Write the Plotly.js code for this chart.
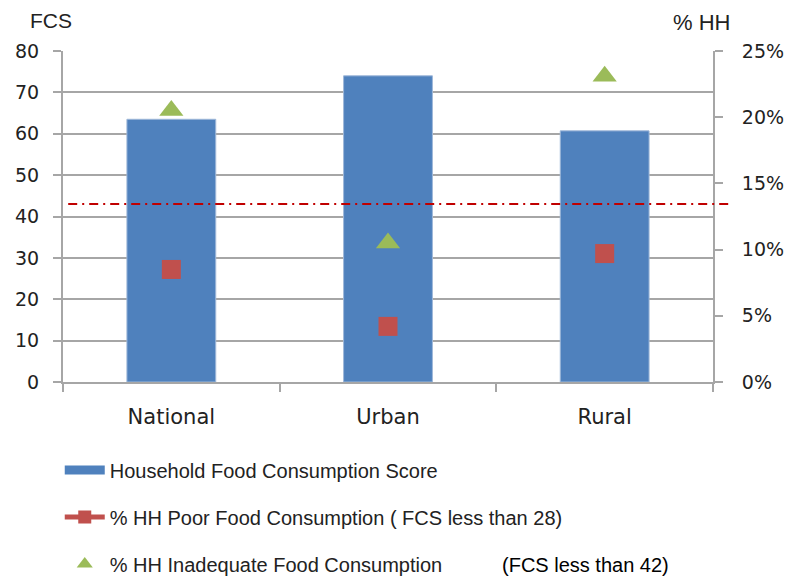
<!DOCTYPE html>
<html>
<head>
<meta charset="utf-8">
<script src="https://cdn.plot.ly/plotly-3.0.1.min.js"></script>
<style>
html,body{margin:0;padding:0;background:#fff;}
#chart{width:790px;height:579px;}
</style>
</head>
<body>
<div id="chart"></div>
<script>
// ---- data ----
const categories = ['National', 'Urban', 'Rural'];
const fcsScore = [63.5, 74, 60.7];                 // Household Food Consumption Score (left axis)
const pctPoor = [0.085, 0.042, 0.097];             // % HH Poor Food Consumption (right axis)
const pctInadequate = [0.205, 0.105, 0.231];       // % HH Inadequate Food Consumption (right axis)
const thresholdFCS = [43];                          // dash-dot reference line (left axis)
const seriesNames = [
  'Household Food Consumption Score',
  '% HH Poor Food Consumption ( FCS less than 28)',
  '% HH Inadequate Food Consumption'
];
const noteText = '(FCS less than 42)';
const leftTicks = [0, 10, 20, 30, 40, 50, 60, 70, 80];
const rightTicks = [0, 0.05, 0.10, 0.15, 0.20, 0.25];

const blue = '#4f81bd', red = '#c0504d', green = '#9bbb59';
const gridC = '#a6a6a6';
const txt = '#222222';
const tickFont = {family: 'DejaVu Sans', size: 19, color: txt};
const legFont = {family: 'Liberation Sans', size: 20, color: txt};

const traces = [
  {type: 'bar', x: categories, y: fcsScore, marker: {color: blue, line: {color: '#9fb8d9', width: 1}},
   width: 0.41, showlegend: false, hoverinfo: 'x+y'},
  {type: 'scatter', mode: 'markers', x: categories, y: pctPoor, yaxis: 'y2',
   marker: {symbol: 'square', size: 19, color: red}, showlegend: false},
  {type: 'scatter', mode: 'markers', x: categories, y: pctInadequate, yaxis: 'y2',
   marker: {symbol: 'triangle-up', size: 21, color: green}, showlegend: false},
  // legend entries
  {type: 'scatter', mode: 'lines', x: [null], y: [null], name: seriesNames[0],
   line: {color: blue, width: 9}, legendgroup: 'a'},
  {type: 'scatter', mode: 'lines+markers', x: [null], y: [null], yaxis: 'y2', name: seriesNames[1],
   line: {color: red, width: 5}, marker: {symbol: 'square', size: 13, color: red}, legendgroup: 'b'},
  {type: 'scatter', mode: 'markers', x: [null], y: [null], yaxis: 'y2', name: seriesNames[2],
   marker: {symbol: 'triangle-up', size: 14, color: green}, legendgroup: 'c'}
];

const layout = {
  width: 790, height: 579,
  margin: {l: 63, r: 77, t: 51, b: 197, autoexpand: false},
  paper_bgcolor: '#fff', plot_bgcolor: '#fff',
  showlegend: true,
  legend: {
    x: -0.005, xanchor: 'left', y: -0.207, yanchor: 'top',
    orientation: 'v', traceorder: 'grouped', tracegroupgap: 18,
    font: legFont, itemwidth: 40, bgcolor: 'rgba(0,0,0,0)'
  },
  xaxis: {
    type: 'category', tickson: 'boundaries', ticks: 'outside', ticklen: 8, tickwidth: 2,
    tickcolor: gridC, showline: true, linecolor: gridC, linewidth: 2, showgrid: false,
    tickfont: {family: 'DejaVu Sans', size: 21, color: txt}, ticklabelstandoff: 15
  },
  yaxis: {
    range: [0, 80], tickvals: leftTicks, ticks: 'outside', ticklen: 8, tickwidth: 2, tickcolor: gridC,
    showline: true, linecolor: gridC, linewidth: 2, showgrid: true, gridcolor: gridC, gridwidth: 2,
    zeroline: false, tickfont: tickFont, ticklabelstandoff: 10
  },
  yaxis2: {
    range: [0, 0.25], tickvals: rightTicks, tickformat: '.0%', overlaying: 'y', side: 'right',
    ticks: 'outside', ticklen: 8, tickwidth: 2, tickcolor: gridC, showline: true, linecolor: gridC,
    linewidth: 2, showgrid: false, zeroline: false, tickfont: tickFont, ticklabelstandoff: 15
  },
  shapes: [{
    type: 'line', xref: 'paper', x0: 0.008, x1: 1.025, yref: 'y', y0: thresholdFCS[0], y1: thresholdFCS[0],
    line: {color: '#c00000', width: 2, dash: '9px,5px,2px,5px'}
  }],
  annotations: [
    {text: 'FCS', xref: 'paper', yref: 'paper', x: -0.018, y: 1.093, xanchor: 'center', yanchor: 'middle',
     showarrow: false, font: {family: 'Liberation Sans', size: 21, color: txt}},
    {text: '% HH', xref: 'paper', yref: 'paper', x: 0.982, y: 1.087, xanchor: 'center', yanchor: 'middle',
     showarrow: false, font: {family: 'Liberation Sans', size: 22, color: txt}},
    {text: noteText, xref: 'paper', yref: 'paper', x: 0.673, y: -0.553, xanchor: 'left', yanchor: 'middle',
     showarrow: false, font: {family: 'Liberation Sans', size: 20, color: '#000'}}
  ]
};

Plotly.newPlot('chart', traces, layout, {displayModeBar: false, staticPlot: true});
</script>
</body>
</html>
